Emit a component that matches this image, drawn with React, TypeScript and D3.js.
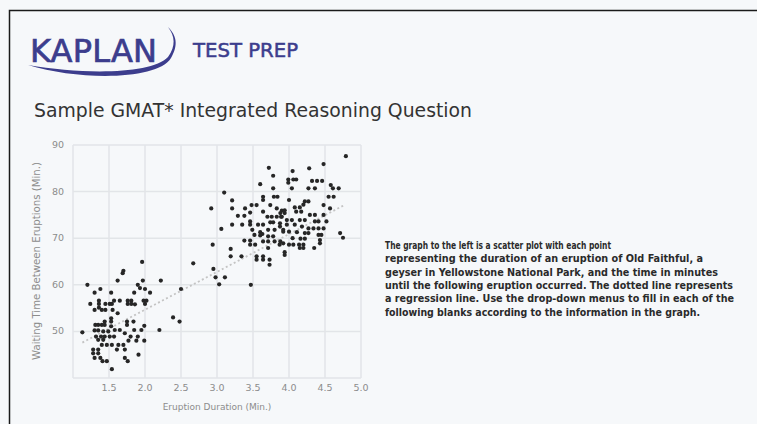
import * as d3 from 'd3';

// eruption duration (min) for each point
const eruption = [
  1.69, 1.62, 1.2, 1.38, 1.3, 1.53, 1.9, 1.97, 1.93, 2.0, 2.22, 2.07, 1.85, 2.5,
  1.24, 1.36, 1.36, 1.36, 1.45, 1.51, 1.54, 1.57, 1.65, 1.76, 1.81, 1.76, 1.81, 1.86,
  1.98, 2.02, 2.0, 1.3, 1.4, 1.45, 1.55, 1.62, 1.53, 1.53, 1.44, 1.75, 1.75, 1.84,
  1.31, 1.35, 1.4, 1.44, 1.53, 1.99, 2.39, 2.48, 1.13, 1.3, 1.35, 1.42, 1.49, 1.58,
  1.65, 1.85, 1.95, 2.2, 1.72, 1.32, 1.39, 1.44, 1.51, 1.57, 1.8, 1.9, 1.35, 1.42,
  1.4, 1.47, 1.54, 1.63, 1.7, 1.77, 1.88, 1.99, 1.28, 1.35, 1.61, 1.72, 1.28, 1.35,
  1.91, 1.3, 1.38, 1.72, 1.76, 1.41, 1.47, 1.54, 1.96, 1.7, 2.67,
  3.72, 3.78, 3.6, 3.1, 3.78, 3.64, 3.64, 3.79, 3.84, 3.21, 3.21, 2.92, 3.39, 3.48,
  3.55, 3.74, 3.83, 3.9, 3.29, 3.38, 3.46, 3.64, 3.7, 3.76, 3.83, 3.89, 3.21, 3.35,
  3.46, 3.46, 3.57, 3.64, 3.74, 3.78, 3.06, 3.49, 3.6, 3.63, 3.6, 3.71, 3.8, 3.92,
  3.78, 3.71, 3.52, 3.38, 3.46, 3.46, 3.53, 3.64, 3.71, 3.8, 3.87, 2.94, 3.19, 3.19,
  3.34, 3.55, 3.64, 3.55, 3.64, 3.73, 3.73, 3.71, 2.95, 2.98, 3.11, 3.03, 3.47,
  4.79, 4.48, 4.28, 4.05, 3.99, 3.99, 4.06, 4.1, 4.32, 4.39, 4.46, 4.04, 4.27, 4.36,
  4.58, 4.61, 4.69, 4.55, 4.62, 4.0, 4.22, 4.27, 4.2, 4.15, 4.08, 4.48, 4.57, 3.94,
  3.94, 4.17, 4.1, 3.88, 3.9, 4.29, 4.36, 4.48, 4.52, 3.97, 4.04, 4.15, 4.22, 4.36,
  4.41, 3.875, 3.875, 3.97, 4.08, 4.18, 4.27, 4.34, 4.41, 4.48, 3.92, 4.0, 4.11, 4.22,
  4.27, 4.71, 4.75, 4.41, 4.45, 4.05, 4.16, 4.22, 4.43, 4.43, 3.88, 3.92, 4.0, 4.06,
  4.14, 4.2, 4.15, 4.2, 4.35, 3.94, 3.94,
];

// waiting time until the next eruption (min), same order as above
const waiting = [
  62.5, 60.9, 60.0, 59.1, 58.3, 58.3, 60.0, 60.9, 59.3, 59.1, 60.9, 58.3, 58.3, 59.1,
  55.9, 56.6, 55.9, 55.1, 55.9, 55.9, 55.9, 56.6, 56.6, 56.6, 56.6, 55.9, 55.9, 55.8,
  56.6, 56.6, 55.9, 54.6, 54.6, 54.6, 54.6, 53.9, 52.8, 52.1, 52.1, 52.1, 51.4, 52.1,
  51.4, 51.4, 51.4, 51.4, 51.1, 51.2, 53.0, 52.1, 49.8, 50.2, 50.2, 50.0, 50.0, 50.3,
  50.3, 50.3, 50.3, 50.3, 49.6, 48.9, 48.9, 48.9, 48.9, 48.9, 48.9, 48.9, 48.2, 48.2,
  47.1, 47.1, 47.1, 47.1, 47.1, 48.0, 48.0, 48.0, 46.1, 46.1, 46.1, 46.1, 45.3, 45.3,
  45.0, 44.3, 44.3, 44.3, 43.6, 43.6, 43.6, 41.9, 64.9, 63.0, 64.6,
  85.1, 83.4, 81.6, 79.8, 80.7, 78.9, 78.2, 78.9, 78.9, 78.1, 76.4, 76.4, 76.4, 77.1,
  77.1, 77.1, 76.4, 75.9, 74.8, 74.8, 75.5, 75.7, 74.6, 74.6, 74.6, 74.6, 72.9, 72.9,
  73.6, 72.9, 72.9, 72.9, 73.4, 73.4, 72.0, 71.8, 71.3, 70.9, 70.6, 71.8, 71.8, 71.8,
  70.4, 70.4, 70.7, 69.5, 69.5, 68.6, 68.6, 69.3, 69.3, 69.3, 68.6, 68.6, 67.7, 66.1,
  66.1, 66.1, 66.1, 65.4, 65.4, 65.4, 64.3, 67.9, 63.4, 61.6, 61.6, 60.1, 60.0,
  87.6, 85.9, 85.0, 84.4, 82.6, 81.9, 82.6, 82.6, 82.3, 82.3, 82.3, 80.7, 80.7, 80.7,
  81.4, 80.7, 80.7, 78.9, 78.9, 78.2, 77.9, 77.9, 77.2, 76.6, 76.6, 77.1, 76.4, 76.0,
  75.4, 75.7, 75.7, 75.4, 74.6, 75.0, 75.0, 75.0, 73.6, 73.9, 73.9, 73.9, 73.9, 73.6,
  73.6, 73.2, 72.5, 72.9, 72.9, 72.5, 72.1, 72.1, 72.1, 72.1, 71.4, 71.4, 71.3, 71.1,
  71.1, 71.1, 70.1, 70.7, 70.7, 70.0, 69.9, 69.9, 69.6, 68.9, 69.3, 68.9, 68.6, 68.6,
  68.6, 68.6, 67.9, 67.9, 67.9, 67.0, 66.4,
];

// ends of the dotted regression line
const regX = [1.13, 4.78];
const regY = [47.6, 77.2];

const xTicks = [1.5, 2.0, 2.5, 3.0, 3.5, 4.0, 4.5, 5.0];
const yTicks = [50, 60, 70, 80, 90];
const xGrid = [1, 1.5, 2, 2.5, 3, 3.5, 4, 4.5, 5];
const yGrid = [40, 50, 60, 70, 80, 90];

const paragraph = [
  'The graph to the left is a scatter plot with each point',
  'representing the duration of an eruption of Old Faithful, a',
  'geyser in Yellowstone National Park, and the time in minutes',
  'until the following eruption occurred. The dotted line represents',
  'a regression line. Use the drop-down menus to fill in each of the',
  'following blanks according to the information in the graph.',
];
const paragraphWidths = [226, 318, 333, 348, 349, 315];

const W = 757;
const H = 424;
const brand = '#3c3d8d';
const font = '"DejaVu Sans", Verdana, sans-serif';

export default function App() {
  const x = d3.scaleLinear().domain([1, 5]).range([73, 361]);
  const y = d3.scaleLinear().domain([40, 90]).range([378, 145]);

  const points = eruption.map((e, i) => ({ e, w: waiting[i] }));
  const reg = d3.line<number>()
    .x((d) => x(d))
    .y((_, i) => y(regY[i]));

  return (
    <svg width={W} height={H} style={{ position: 'absolute', left: 0, top: 0 }} fontFamily={font}>
      <rect width={W} height={H} fill="#f6f8fa" />
      {/* page frame */}
      <path d={`M9.5,${H} V10.5 H${W}`} fill="none" stroke="#1a1a1a" strokeWidth={1.5} />

      {/* logo */}
      <text x={30} y={62} fontSize={32} fill={brand} stroke={brand} strokeWidth={0.7}
        textLength={127} lengthAdjust="spacing">KAPLAN</text>
      <path d="M28,65 C80,81 158,80 171,58 C179,44 176,35 168,27 C175,36 176,46 168,57 C152,74 85,75 28,65 Z"
        fill={brand} />
      <text x={193} y={57} fontSize={19} fill={brand} stroke={brand} strokeWidth={0.5}
        textLength={105} lengthAdjust="spacingAndGlyphs">TEST PREP</text>

      <text x={34} y={117} fontSize={19} fill="#333"
        textLength={438} lengthAdjust="spacingAndGlyphs">Sample GMAT* Integrated Reasoning Question</text>

      {/* grid */}
      <g stroke="#e2e5e8" strokeWidth={1.5}>
        {xGrid.map((v) => <line key={'gx' + v} x1={x(v)} x2={x(v)} y1={y(40)} y2={y(90)} />)}
        {yGrid.map((v) => <line key={'gy' + v} x1={x(1)} x2={x(5)} y1={y(v)} y2={y(v)} />)}
      </g>

      <path d={reg(regX) ?? ''} fill="none" stroke="#c4c4c4" strokeWidth={1.8} strokeDasharray="2,2.5" />

      <g fill="#262626">
        {points.map((p, i) => <circle key={i} cx={x(p.e)} cy={y(p.w)} r={2.1} />)}
      </g>

      {/* axes */}
      <g fontSize={9.5} fill="#8c8c8c">
        {xTicks.map((t) => (
          <text key={'xt' + t} x={x(t)} y={391} textAnchor="middle">{d3.format('.1f')(t)}</text>
        ))}
        {yTicks.map((t) => (
          <text key={'yt' + t} x={64} y={y(t) + 3} textAnchor="end">{t}</text>
        ))}
      </g>
      <text x={217} y={410} fontSize={9} fill="#8c8c8c" textAnchor="middle">Eruption Duration (Min.)</text>
      <text transform="translate(40,261) rotate(-90)" fontSize={10} fill="#8c8c8c" textAnchor="middle"
        textLength={198} lengthAdjust="spacingAndGlyphs">
        Waiting Time Between Eruptions (Min.)
      </text>

      {/* description */}
      <g fontSize={10} fontWeight="bold" fill="#2a2a2a" fontFamily='"DejaVu Sans Condensed", "DejaVu Sans", sans-serif'>
        {paragraph.map((line, i) => (
          <text key={i} x={385} y={249 + i * 13.3} textLength={paragraphWidths[i]} lengthAdjust="spacingAndGlyphs">
            {line}
          </text>
        ))}
      </g>
    </svg>
  );
}
